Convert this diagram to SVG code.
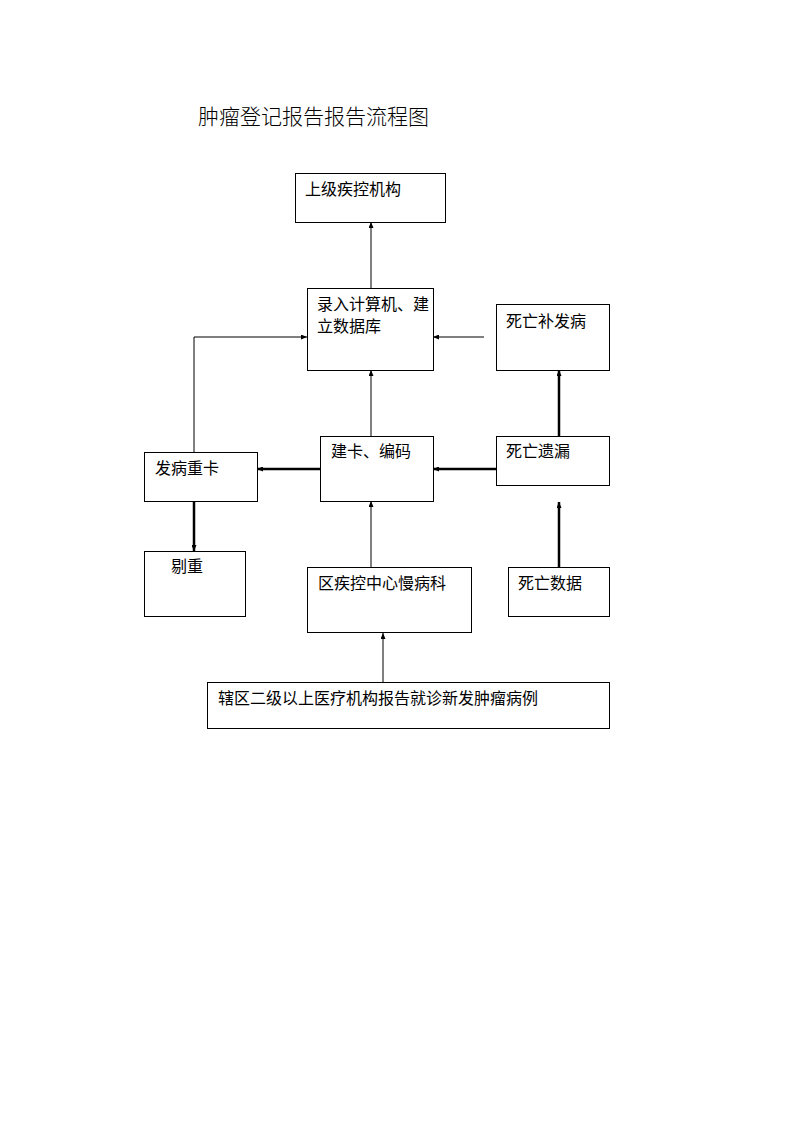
<svg xmlns="http://www.w3.org/2000/svg" width="794" height="1123" viewBox="0 0 794 1123">
<style>
.box{fill:#fff;stroke:#000;stroke-width:1}
.t{font-family:"Liberation Sans","Noto Sans CJK SC",sans-serif;font-size:16px;fill:#000}
.title{font-family:"Liberation Serif","Noto Sans CJK SC",serif;font-size:21px;font-weight:300;fill:#000}
.thin{stroke:#000;stroke-width:1;fill:none;marker-end:url(#a)}
.thick{stroke:#000;stroke-width:2.5;fill:none;marker-end:url(#b)}
</style>
<defs>
<marker id="a" viewBox="0 0 6 5" refX="6" refY="2.5" markerWidth="6" markerHeight="5" markerUnits="userSpaceOnUse" orient="auto"><path d="M0,0 L6,2.5 L0,5 z" fill="#000"/></marker>
<marker id="b" viewBox="0 0 6 5" refX="6" refY="2.5" markerWidth="6" markerHeight="5" markerUnits="userSpaceOnUse" orient="auto"><path d="M0,0 L6,2.5 L0,5 z" fill="#000"/></marker>
</defs>
<rect width="794" height="1123" fill="#fff"/>
<text class="title" x="198" y="124">肿瘤登记报告报告流程图</text>
<g id="connectors">
<path class="thin" d="M371,288 V222"/>
<path class="thin" d="M194,452 V337 H307"/>
<path class="thin" d="M484,337 H433"/>
<path class="thin" d="M371,436 V370"/>
<path class="thick" d="M559,436 V370"/>
<path class="thick" d="M320,469 H257"/>
<path class="thick" d="M496,469 H433"/>
<path class="thick" d="M194,501 V551"/>
<path class="thin" d="M371,567 V501"/>
<path class="thick" d="M559,567 V502"/>
<path class="thin" d="M383,682 V633"/>
</g>
<g id="n1"><rect class="box" x="295.5" y="173.5" width="150" height="49"/><text class="t" x="305" y="195">上级疾控机构</text></g>
<g id="n2"><rect class="box" x="307.5" y="288.5" width="126" height="82"/><text class="t" x="317" y="310">录入计算机、建</text><text class="t" x="317" y="332">立数据库</text></g>
<g id="n3"><rect class="box" x="496.5" y="304.5" width="113" height="66"/><text class="t" x="506" y="327">死亡补发病</text></g>
<g id="n4"><rect class="box" x="144.5" y="452.5" width="113" height="49"/><text class="t" x="155" y="474">发病重卡</text></g>
<g id="n5"><rect class="box" x="320.5" y="436.5" width="113" height="65"/><text class="t" x="331" y="457">建卡、编码</text></g>
<g id="n6"><rect class="box" x="496.5" y="436.5" width="113" height="49"/><text class="t" x="506" y="457">死亡遗漏</text></g>
<g id="n7"><rect class="box" x="144.5" y="551.5" width="101" height="65"/><text class="t" x="171" y="572">剔重</text></g>
<g id="n8"><rect class="box" x="307.5" y="567.5" width="164" height="65"/><text class="t" x="318" y="589">区疾控中心慢病科</text></g>
<g id="n9"><rect class="box" x="508.5" y="567.5" width="101" height="49"/><text class="t" x="518" y="589">死亡数据</text></g>
<g id="n10"><rect class="box" x="207.5" y="682.5" width="402" height="46"/><text class="t" x="218" y="704">辖区二级以上医疗机构报告就诊新发肿瘤病例</text></g>
</svg>
